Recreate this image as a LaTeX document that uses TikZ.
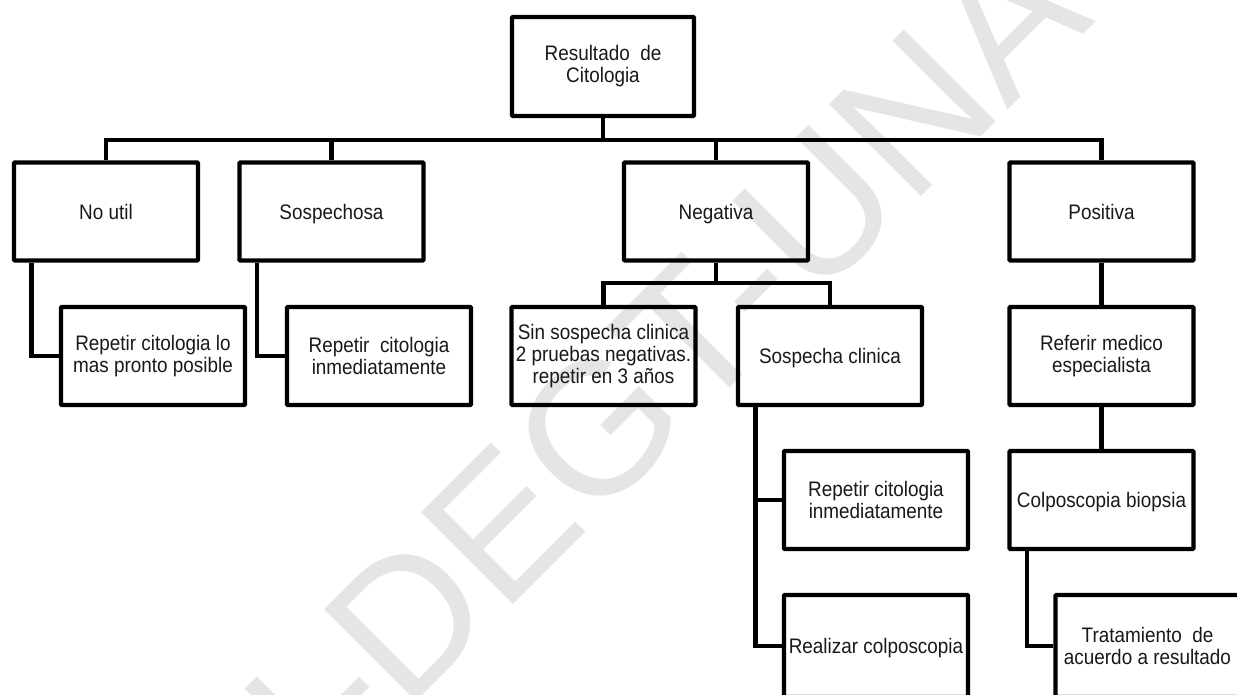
\documentclass[tikz,border=0pt]{standalone}
\usepackage{fontspec}
\setmainfont{Liberation Sans}
\newfontfamily\boxfont[FakeStretch=0.9]{Liberation Sans}
\newfontfamily\wmfont{Liberation Sans}
\begin{document}
\begin{tikzpicture}[x=1pt,y=-1pt,
  box/.style={draw=black, line width=4.3pt, rounded corners=1pt, inner sep=0pt,
    minimum width=184pt, minimum height=98pt, align=center,
    font=\boxfont\fontsize{21}{22}\selectfont, text=black!90},
  oneline/.style={text height=16pt, text depth=1pt},
  link/.style={draw=black, line width=4.3pt, line join=miter},
  wm/.style={text=black!10, inner sep=0pt, font=\wmfont\fontsize{189}{189}\selectfont}]
\useasboundingbox (0,0) rectangle (1237,694);
\clip (0,0) rectangle (1237,694);
\fill[white] (0,0) rectangle (1237,694);
% watermark
\node[wm, rotate=45, anchor=base west] (wm) at (324,794) {I-DEGT-UNA};
% level 0
\node[box, minimum width=182pt, minimum height=99pt] (root) at (603,66.5) {Resultado\ \ de\\Citologia};
% level 1
\node[box, oneline] (noutil) at (106,211.5) {No util};
\node[box, oneline] (sosp) at (331.5,211.5) {Sospechosa};
\node[box, oneline] (neg) at (716,211.5) {Negativa};
\node[box, oneline] (pos) at (1101.5,211.5) {Positiva};
% level 2
\node[box] (rep1) at (153,356) {Repetir citologia lo\\mas pronto posible};
\node[box] (rep2) at (379,356) {Repetir\ \ citologia\\inmediatamente};
\node[box] (sin) at (603.5,356) {Sin sospecha clinica\\2 pruebas negativas.\\repetir en 3 años};
\node[box, oneline] (sosc) at (830,356) {Sospecha clinica};
\node[box] (ref) at (1101.5,356) {Referir medico\\especialista};
% level 3
\node[box] (rep3) at (876,500) {Repetir citologia\\inmediatamente};
\node[box, oneline] (colpo) at (1101.5,500) {Colposcopia biopsia};
% level 4
\node[box, oneline, minimum height=102pt] (real) at (876,646) {Realizar colposcopia};
\node[box, minimum height=102pt] (trat) at (1147.5,646) {Tratamiento\ \ de\\acuerdo a resultado};
% connectors
\draw[link] (root.south) -- ++(0,22) -| (noutil.north);
\draw[link] (root.south) -- ++(0,22) -| (sosp.north);
\draw[link] (root.south) -- ++(0,22) -| (neg.north);
\draw[link] (root.south) -- ++(0,22) -| (pos.north);
\draw[link] ([xshift=19.5pt]noutil.south west) |- (rep1.west);
\draw[link] ([xshift=19.5pt]sosp.south west) |- (rep2.west);
\draw[link] (neg.south) -- ++(0,20) -| (sin.north);
\draw[link] (neg.south) -- ++(0,20) -| (sosc.north);
\draw[link] ([xshift=19.5pt]sosc.south west) |- (rep3.west);
\draw[link] ([xshift=19.5pt]sosc.south west) |- (real.west);
\draw[link] (pos.south) -- (ref.north);
\draw[link] (ref.south) -- (colpo.north);
\draw[link] ([xshift=19.5pt]colpo.south west) |- (trat.west);
\end{tikzpicture}
\end{document}
